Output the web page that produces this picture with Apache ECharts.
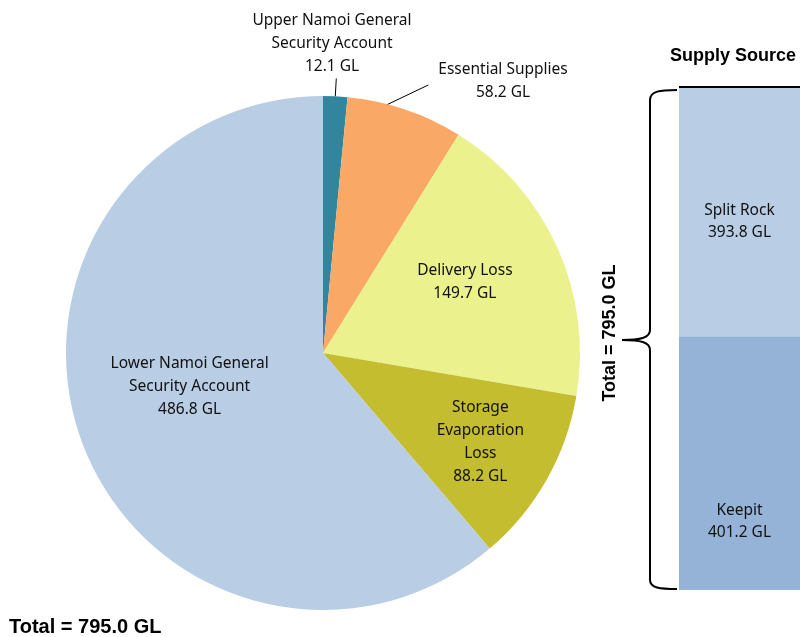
<!DOCTYPE html>
<html>
<head>
<meta charset="utf-8">
<script src="https://cdn.jsdelivr.net/npm/echarts@6/dist/echarts.min.js"></script>
<style>
  html, body { margin: 0; padding: 0; background: #fff; }
  #chart { width: 800px; height: 637px; }
</style>
</head>
<body>
<div id="chart"></div>
<script>
// water use breakdown (GL)
const useNames = ['Upper Namoi General\nSecurity Account', 'Essential Supplies', 'Delivery Loss', 'Storage\nEvaporation\nLoss', 'Lower Namoi General\nSecurity Account']
const useValues = [12.1, 58.2, 149.7, 88.2, 486.8]
const useColors = ['#31859c', '#f9a965', '#ebf18c', '#c3bd2f', '#b9cde5']
// supply source (GL), bottom to top
const sourceNames = ['Keepit', 'Split Rock']
const sourceValues = [401.2, 393.8]
const sourceColors = ['#95b3d7', '#b9cde5']
const total = 795.0

const font = '"Noto Sans", sans-serif'
const boldFont = '"Liberation Sans", Arial, sans-serif'
const labelSize = 15.5
const chart = echarts.init(document.getElementById('chart'))

// tweak inside label spots a bit, like the original
const insideOffsets = { 2: [22, -17], 3: [43, 24], 4: [-10, -12] }
// outside labels: where the text sits
const outsideSpots = { 0: [332, 44], 1: [503, 81] }

// curly brace next to the supply bar
const braceStyle = { stroke: '#000', lineWidth: 2, fill: 'none' }
const curve = (a, b, c, d) => ({
  type: 'bezierCurve',
  shape: { x1: a[0], y1: a[1], cpx1: b[0], cpy1: b[1], cpx2: c[0], cpy2: c[1], x2: d[0], y2: d[1] },
  style: braceStyle
})
const seg = (a, b) => ({ type: 'line', shape: { x1: a[0], y1: a[1], x2: b[0], y2: b[1] }, style: braceStyle })

const option = {
  animation: false,
  backgroundColor: '#fff',
  textStyle: { fontFamily: font },
  graphic: [
    {
      type: 'text', x: 9, y: 627,
      style: { text: 'Total = ' + total.toFixed(1) + ' GL', fontSize: 20, fontWeight: 'bold', fontFamily: boldFont, fill: '#000', verticalAlign: 'middle' }
    },
    {
      type: 'text', x: 670, y: 56,
      style: { text: 'Supply Source', fontSize: 18, fontWeight: 'bold', fontFamily: boldFont, fill: '#000', verticalAlign: 'middle' }
    },
    {
      type: 'text', x: 610, y: 333, rotation: Math.PI / 2,
      style: { text: 'Total = ' + total.toFixed(1) + ' GL', fontSize: 18, fontWeight: 'bold', fontFamily: boldFont, fill: '#000', align: 'center', verticalAlign: 'middle' }
    },
    curve([677, 90], [660, 90], [650, 91], [650, 100]),
    seg([650, 100], [650, 330]),
    curve([650, 330], [650, 338], [640, 340], [622, 340]),
    curve([622, 340], [640, 340], [650, 342], [650, 350]),
    seg([650, 350], [650, 580]),
    curve([650, 580], [650, 588], [660, 589], [677, 589])
  ],
  grid: { left: 679, top: 87, width: 136, height: 503 },
  xAxis: { type: 'category', data: ['Supply Source'], show: false },
  yAxis: { type: 'value', min: 0, max: total, show: false },
  series: [
    {
      type: 'pie',
      center: [323, 353],
      radius: 257,
      startAngle: 90,
      clockwise: true,
      itemStyle: { borderWidth: 0 },
      label: {
        color: '#111',
        fontSize: labelSize,
        lineHeight: 23,
        fontFamily: font,
        align: 'center',
        formatter: p => p.name + '\n' + p.value.toFixed(1) + ' GL'
      },
      labelLine: { lineStyle: { color: '#000', width: 1 } },
      labelLayout: params => {
        const spot = outsideSpots[params.dataIndex]
        if (!spot) return {}
        const p0 = params.labelLinePoints ? params.labelLinePoints[0] : null
        const out = { x: spot[0], y: spot[1], align: 'center', verticalAlign: 'middle' }
        if (p0) {
          const r = params.labelRect
          const endY = spot[1] + r.height / 2
          if (params.dataIndex === 0) {
            out.labelLinePoints = [p0, [p0[0] + 1, endY], [p0[0] + 1, endY]]
          } else {
            out.labelLinePoints = [[p0[0] - 22, p0[1] - 3], [spot[0] - r.width / 2 - 10, spot[1] + 4], [spot[0] - r.width / 2 - 10, spot[1] + 4]]
          }
        }
        return out
      },
      data: useNames.map((n, i) => ({
        name: n,
        value: useValues[i],
        itemStyle: { color: useColors[i] },
        label: i < 2
          ? { position: 'outside' }
          : { position: 'inside', offset: insideOffsets[i] },
        labelLine: { show: i < 2, length: 10, length2: 0 }
      }))
    },
    ...sourceNames.map((n, i) => {
      const s = {
        type: 'bar',
        name: n,
        stack: 'source',
        barWidth: '100%',
        itemStyle: { color: sourceColors[i] },
        label: {
          show: true,
          position: 'inside',
          offset: i === 0 ? [0, 58] : [0, 10],
          color: '#111',
          fontSize: labelSize,
          lineHeight: 22,
          fontFamily: font,
          formatter: p => n + '\n' + p.value.toFixed(1) + ' GL'
        },
        data: [sourceValues[i]]
      }
      if (i === 1) {
        s.markLine = {
          silent: true,
          symbol: 'none',
          label: { show: false },
          lineStyle: { color: '#000', width: 2, type: 'solid' },
          data: [{ yAxis: total }]
        }
      }
      return s
    })
  ]
}
chart.setOption(option)
</script>
</body>
</html>
